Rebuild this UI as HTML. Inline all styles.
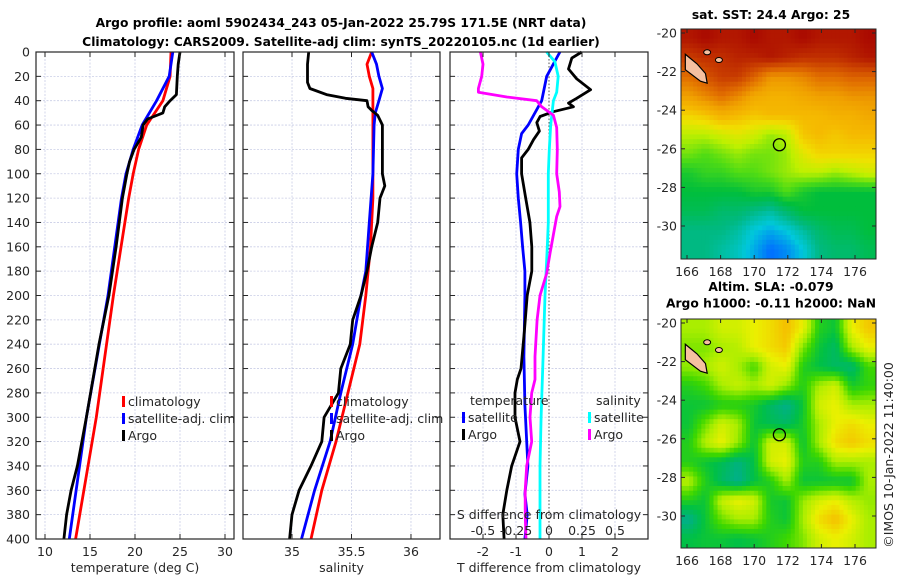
<!DOCTYPE html>
<html><head><meta charset="utf-8">
<style>
html,body{margin:0;padding:0;background:#fff;}
svg{display:block;font-family:"DejaVu Sans","Liberation Sans",sans-serif;}
</style></head>
<body>
<svg id="fig" width="900" height="580" viewBox="0 0 900 580">
<g font-weight="bold" font-size="12.3" text-anchor="middle" fill="#000">
<text x="341" y="27">Argo profile: aoml 5902434_243 05-Jan-2022 25.79S 171.5E (NRT data)</text>
<text x="341" y="46">Climatology: CARS2009. Satellite-adj clim: synTS_20220105.nc (1d earlier)</text>
</g>
</svg>
<script>
// ---------- data ----------
const depthTicks=[0,20,40,60,80,100,120,140,160,180,200,220,240,260,280,300,320,340,360,380,400];
const tempTicks=[10,15,20,25,30];
const salTicks=[35,35.5,36];
const tdiffTicks=[-2,-1,0,1,2];
const sdiffTicks=[-0.5,-0.25,0,0.25,0.5];
const sdiffTickLabels=["-0.5","-0.25","0","0.25","0.5"];

const tClimDepth=[0,20,40,50,60,80,100,120,200,300,400];
const tClimVal=[24.0,23.9,23.1,22.2,21.3,20.4,19.8,19.3,17.6,15.7,13.4];
const tSatDepth=[0,20,40,60,80,100,120,200,300,400];
const tSatVal=[24.2,23.8,22.4,20.8,19.8,19.0,18.5,17.0,14.6,12.7];
const tArgoDepth=[0,10,20,35,40,45,50,55,60,70,80,90,100,120,160,200,240,300,340,360,380,400];
const tArgoVal=[25.0,24.8,24.7,24.6,23.9,23.3,23.1,21.4,20.9,20.7,19.9,19.4,19.1,18.6,17.9,17.1,16.0,14.6,13.6,12.9,12.4,12.1];

const sClimDepth=[0,10,20,30,60,120,160,200,240,280,320,360,400];
const sClimVal=[35.67,35.63,35.65,35.68,35.68,35.68,35.66,35.62,35.57,35.47,35.37,35.25,35.16];
const sSatDepth=[0,10,20,30,40,50,60,100,140,180,200,240,280,320,360,400];
const sSatVal=[35.67,35.71,35.73,35.76,35.73,35.70,35.69,35.68,35.65,35.62,35.58,35.51,35.41,35.32,35.19,35.08];
const sArgoDepth=[0,10,25,30,35,38,40,45,48,52,60,80,100,110,120,140,160,180,200,220,240,260,280,300,320,340,360,380,400];
const sArgoVal=[35.14,35.13,35.13,35.15,35.29,35.45,35.63,35.64,35.67,35.72,35.76,35.76,35.76,35.78,35.74,35.72,35.67,35.63,35.58,35.51,35.49,35.41,35.39,35.27,35.25,35.16,35.06,35.00,34.98];

const dTSatDepth=[0,20,40,60,67,80,100,120,140,160,180,200,250,290,340,363,380,400];
const dTSatVal=[0.33,-0.07,-0.22,-0.63,-0.83,-0.93,-0.98,-0.93,-0.86,-0.80,-0.73,-0.73,-0.76,-0.73,-0.64,-0.73,-0.66,-0.73];
const dTArgoDepth=[0,5,14,22,31,38,42,45,49,53,58,65,72,80,87,100,121,140,160,180,200,230,260,269,280,300,320,340,360,380,400];
const dTArgoVal=[0.99,0.69,0.59,0.84,1.26,0.84,0.59,0.74,0.13,-0.27,-0.37,-0.29,-0.47,-0.63,-0.83,-0.83,-0.70,-0.58,-0.52,-0.52,-0.66,-0.75,-0.85,-0.96,-1.03,-1.03,-0.88,-1.13,-1.28,-1.40,-1.36];
const dSSatDepth=[0,8,20,33,40,60,80,100,140,160,200,250,300,340,400];
const dSSatVal=[-0.018,0.045,0.07,0.058,0.033,0.013,0.002,-0.005,-0.005,-0.013,-0.03,-0.045,-0.06,-0.068,-0.068];
const dSArgoDepth=[0,10,20,30,33,37,40,45,52,62,80,100,115,127,135,150,165,182,200,220,250,269,280,300,320,340,360,380,400];
const dSArgoVal=[-0.52,-0.50,-0.51,-0.535,-0.535,-0.32,-0.093,-0.055,0.033,0.058,0.063,0.058,0.078,0.083,0.058,0.033,0.008,-0.018,-0.068,-0.09,-0.106,-0.106,-0.131,-0.144,-0.131,-0.169,-0.18,-0.18,-0.174];

const lonTicks=[166,168,170,172,174,176];
const latTicks=[-20,-22,-24,-26,-28,-30];
const argoLon=171.5, argoLat=-25.79;
const sstGrid=[
[26.5,26.6,26.5,26.5,26.6,26.5,26.5,26.6,26.5,26.5,26.5,26.6],
[26.2,26.3,26.3,26.4,26.4,26.5,26.4,26.3,26.3,26.3,26.4,26.5],
[25.8,26.0,26.2,26.2,25.9,25.5,25.5,25.6,25.8,25.8,25.9,25.9],
[25.4,25.6,25.8,25.6,25.3,25.2,25.2,25.3,25.4,25.4,25.5,25.5],
[24.9,25.0,25.2,25.1,25.0,25.1,25.1,25.1,25.1,25.2,25.2,25.3],
[24.5,24.5,24.6,24.7,24.6,24.4,24.5,25.0,25.1,25.0,25.1,25.1],
[24.3,24.2,24.3,24.4,24.3,24.3,24.4,24.7,24.9,24.9,24.9,24.9],
[24.0,24.1,24.1,24.2,24.2,24.3,24.4,24.5,24.5,24.4,24.5,24.6],
[23.9,23.9,23.9,23.9,24.0,24.0,24.2,24.0,23.9,23.9,23.9,23.9],
[23.8,23.8,23.7,23.7,23.6,23.5,23.7,23.9,23.9,23.9,23.9,23.9],
[23.6,23.6,23.6,23.5,23.3,23.2,23.3,23.5,23.7,23.8,23.8,23.9],
[23.6,23.6,23.5,23.4,23.2,23.0,23.1,23.3,23.6,23.7,23.7,23.8]];
const slaGrid=[
[0.05,0.05,0.08,0.08,0.1,0.12,0.15,0.1,-0.02,-0.04,0.1,0.14],
[0.03,0.03,0.05,0.06,0.1,0.12,0.14,0.03,-0.04,-0.07,0.05,0.1],
[0.04,0.05,0.08,0.05,0.0,0.08,0.1,-0.02,-0.05,-0.07,-0.08,0.0],
[-0.02,0.0,0.05,0.07,0.05,0.08,0.04,-0.02,0.05,0.08,-0.03,-0.01],
[-0.04,-0.04,-0.02,-0.02,-0.03,-0.07,-0.1,-0.04,0.08,0.1,0.05,0.05],
[-0.04,0.02,0.08,0.05,-0.04,-0.06,-0.07,-0.03,0.05,0.1,0.12,0.1],
[-0.02,0.06,0.1,0.04,-0.04,0.08,0.08,-0.04,0.05,0.12,0.14,0.12],
[-0.02,-0.04,-0.06,-0.09,-0.05,0.08,0.1,-0.02,-0.02,0.05,0.05,0.05],
[0.06,-0.02,-0.07,-0.1,-0.05,-0.02,0.05,-0.04,-0.04,-0.04,-0.04,0.05],
[-0.02,-0.04,0.07,0.1,0.08,-0.03,-0.04,0.04,0.08,0.1,0.06,0.04],
[-0.1,-0.04,0.02,0.05,0.05,-0.02,-0.04,0.05,0.12,0.15,0.1,0.05],
[-0.05,-0.04,-0.04,-0.05,-0.04,-0.02,0.0,0.03,0.08,0.1,0.08,0.05]];

// ---------- drawing ----------
const NS="http://www.w3.org/2000/svg";
const svg=document.getElementById('fig');
function mk(tag,attrs,parent){const e=document.createElementNS(NS,tag);for(const k in attrs)e.setAttribute(k,attrs[k]);(parent||svg).appendChild(e);return e;}
function lin(d0,d1,r0,r1){return v=>r0+(v-d0)*(r1-r0)/(d1-d0);}
const Y0=52,Y1=539;
const yD=lin(0,400,Y0,Y1);
const TXT="#262626";

function panel(name,x0,x1,xs,ticks){
  const g=mk('g',{});
  
  
  depthTicks.forEach(d=>{const l=mk('line',{x1:x0,x2:x1,y1:yD(d),y2:yD(d),stroke:'#c9cde6','stroke-width':0.8,'stroke-dasharray':'2,1.5'},g);
    });
  ticks.forEach(t=>{const l=mk('line',{x1:xs(t),x2:xs(t),y1:Y0,y2:Y1,stroke:'#c9cde6','stroke-width':0.8,'stroke-dasharray':'2,1.5'},g);
    });
  return g;
}
function frame(g,x0,x1,xs,ticks,tickLabels,xlabel,showY){
  const r=mk('rect',{x:x0,y:Y0,width:x1-x0,height:Y1-Y0,fill:'none',stroke:'#262626','stroke-width':1.2},g);
  
  depthTicks.forEach(d=>{mk('line',{x1:x0,x2:x0+5,y1:yD(d),y2:yD(d),stroke:'#262626'},g);mk('line',{x1:x1-5,x2:x1,y1:yD(d),y2:yD(d),stroke:'#262626'},g);
    if(showY){const t=mk('text',{x:30,y:yD(d)+4.5,'text-anchor':'end','font-size':12.5,fill:TXT},g);t.textContent=d;
      }});
  ticks.forEach((v,i)=>{mk('line',{x1:xs(v),x2:xs(v),y1:Y1,y2:Y1-5,stroke:'#262626'},g);mk('line',{x1:xs(v),x2:xs(v),y1:Y0,y2:Y0+5,stroke:'#262626'},g);
    const t=mk('text',{x:xs(v),y:556,'text-anchor':'middle','font-size':12.5,fill:TXT},g);t.textContent=tickLabels[i];
    });
  const xl=mk('text',{x:(x0+x1)/2,y:572,'text-anchor':'middle','font-size':12.5,fill:TXT},g);xl.textContent=xlabel;
  
}
function series(g,name,xs,dep,val,color){
  const pts=dep.map((d,i)=>xs(val[i]).toFixed(1)+','+yD(d).toFixed(1)).join(' ');
  const p=mk('polyline',{points:pts,fill:'none',stroke:color,'stroke-width':2.8,'stroke-linejoin':'round'},g);
  
}
function legend(g,x,y,items){
  items.forEach((it,i)=>{
    const m=mk('rect',{x:x,y:y+i*17-10,width:3,height:11,fill:it[1]},g);
    
    const t=mk('text',{x:x+6,y:y+i*17,'font-size':12.5,fill:TXT},g);t.textContent=it[0];
    
  });
}
// Panel 1 temperature
const xT=lin(9,31,36,234);
const g1=panel('temperature-panel',36,234,xT,tempTicks);
series(g1,'temperature-climatology-line',xT,tClimDepth,tClimVal,'#ff0000');
series(g1,'temperature-satellite-line',xT,tSatDepth,tSatVal,'#0000ff');
series(g1,'temperature-argo-line',xT,tArgoDepth,tArgoVal,'#000000');
legend(g1,122,406,[['climatology','#ff0000'],['satellite-adj. clim','#0000ff'],['Argo','#000']]);
frame(g1,36,234,xT,tempTicks,tempTicks.map(String),'temperature (deg C)',true);
// Panel 2 salinity
const xS=lin(34.588,36.244,243,440);
const g2=panel('salinity-panel',243,440,xS,salTicks);
series(g2,'salinity-climatology-line',xS,sClimDepth,sClimVal,'#ff0000');
series(g2,'salinity-satellite-line',xS,sSatDepth,sSatVal,'#0000ff');
series(g2,'salinity-argo-line',xS,sArgoDepth,sArgoVal,'#000000');
legend(g2,330,406,[['climatology','#ff0000'],['satellite-adj. clim','#0000ff'],['Argo','#000']]);
frame(g2,243,440,xS,salTicks,['35','35.5','36'],'salinity',false);
// Panel 3 differences
const xDT=lin(-3,3,450,648);
const xDS=lin(-0.75,0.75,450,648);
const g3=panel('difference-panel',450,648,xDT,tdiffTicks);
const zl=mk('line',{x1:xDT(0),x2:xDT(0),y1:Y0,y2:Y1,stroke:'#555','stroke-width':1,'stroke-dasharray':'1.5,2'},g3);

series(g3,'t-diff-satellite-line',xDT,dTSatDepth,dTSatVal,'#0000ff');
series(g3,'t-diff-argo-line',xDT,dTArgoDepth,dTArgoVal,'#000000');
series(g3,'s-diff-satellite-line',xDS,dSSatDepth,dSSatVal,'#00ffff');
series(g3,'s-diff-argo-line',xDS,dSArgoDepth,dSArgoVal,'#ff00ff');
(function(){const t=mk('text',{x:470,y:405,'font-size':12.5,fill:TXT},g3);t.textContent='temperature';
 
 const s=mk('text',{x:596,y:405,'font-size':12.5,fill:TXT},g3);s.textContent='salinity';
 })();
legend(g3,462,422,[['satellite','#0000ff'],['Argo','#000']]);
legend(g3,588,422,[['satellite','#00ffff'],['Argo','#ff00ff']]);
(function(){const t=mk('text',{x:549,y:519,'text-anchor':'middle','font-size':12.5,fill:TXT},g3);t.textContent='S difference from climatology';
 
 sdiffTicks.forEach((v,i)=>{const l=mk('text',{x:xDS(v),y:535,'text-anchor':'middle','font-size':12.5,fill:TXT},g3);l.textContent=sdiffTickLabels[i];
  });})();
frame(g3,450,648,xDT,tdiffTicks,tdiffTicks.map(String),'T difference from climatology',false);

// ---------- maps ----------
function lerpColor(stops,v){
  if(v<=stops[0][0])return stops[0][1];
  for(let i=1;i<stops.length;i++){if(v<=stops[i][0]){const a=stops[i-1],b=stops[i];const f=(v-a[0])/(b[0]-a[0]);
    const c=a[1].map((x,k)=>Math.round(x+(b[1][k]-x)*f));return c;}}
  return stops[stops.length-1][1];
}
function sampleGrid(grid,fy,fx){
  const R=grid.length,C=grid[0].length;
  const y=Math.max(0,Math.min(R-1,fy)),x=Math.max(0,Math.min(C-1,fx));
  const y0=Math.floor(y),x0=Math.floor(x),y1=Math.min(R-1,y0+1),x1=Math.min(C-1,x0+1);
  const ty=y-y0,tx=x-x0;
  return grid[y0][x0]*(1-ty)*(1-tx)+grid[y0][x1]*(1-ty)*tx+grid[y1][x0]*ty*(1-tx)+grid[y1][x1]*ty*tx;
}
const sstStops=[[23.0,[0,110,255]],[23.3,[0,200,220]],[23.6,[0,185,130]],[23.9,[0,190,60]],[24.2,[80,220,20]],[24.5,[190,240,0]],[24.8,[240,225,0]],[25.1,[245,185,0]],[25.4,[240,160,0]],[25.8,[225,110,0]],[26.2,[200,60,0]],[26.6,[170,10,0]]];
const slaStops=[[-0.1,[0,175,140]],[-0.05,[0,192,70]],[0,[60,215,0]],[0.05,[170,238,0]],[0.1,[235,240,0]],[0.15,[245,190,0]]];
function map(name,top,bottom,grid,stops,titleLines,latRef){
  const left=681,right=876;
  const g=mk('g',{});
  
  const xL=lin(166,176,687,855);
  const yL=lin(-20,-30,latRef[0],latRef[1]);
  const rows=grid.length,cols=grid[0].length;
  const SUB=4;
  const cw=(right-left)/(cols*SUB),ch=(bottom-top)/(rows*SUB);
  for(let r=0;r<rows*SUB;r++)for(let c=0;c<cols*SUB;c++){
    const v=sampleGrid(grid,(r+0.5)/SUB-0.5,(c+0.5)/SUB-0.5);
    const col=lerpColor(stops,v);
    const cell=mk('rect',{x:(left+c*cw).toFixed(2),y:(top+r*ch).toFixed(2),width:(cw+0.5).toFixed(2),height:(ch+0.5).toFixed(2),fill:`rgb(${col[0]},${col[1]},${col[2]})`},g);
    
    
  }
  const land=mk('polygon',{points:[[165.9,-21.1],[166.6,-21.6],[167.1,-22.1],[167.2,-22.6],[166.8,-22.5],[165.9,-21.9]].map(p=>xL(p[0])+','+yL(p[1])).join(' '),fill:'#f5c0a0',stroke:'#000','stroke-width':1.2},g);
  
  [[167.2,-21],[167.9,-21.4]].forEach(p=>{const e=mk('ellipse',{cx:xL(p[0]),cy:yL(p[1]),rx:3.5,ry:2.5,fill:'#f5c0a0',stroke:'#000'},g);
    });
  const c=mk('circle',{cx:xL(argoLon),cy:yL(argoLat),r:6,fill:'none',stroke:'#000','stroke-width':1.3},g);
  
  const fr=mk('rect',{x:left,y:top,width:right-left,height:bottom-top,fill:'none',stroke:'#262626','stroke-width':1},g);
  
  lonTicks.forEach(v=>{mk('line',{x1:xL(v),x2:xL(v),y1:bottom,y2:bottom-4,stroke:'#262626'},g);mk('line',{x1:xL(v),x2:xL(v),y1:top,y2:top+4,stroke:'#262626'},g);
    const t=mk('text',{x:xL(v),y:bottom+17,'text-anchor':'middle','font-size':12.5,fill:TXT},g);t.textContent=v;
    });
  latTicks.forEach(v=>{mk('line',{x1:left,x2:left+4,y1:yL(v),y2:yL(v),stroke:'#262626'},g);mk('line',{x1:right-4,x2:right,y1:yL(v),y2:yL(v),stroke:'#262626'},g);
    const t=mk('text',{x:677,y:yL(v)+4.5,'text-anchor':'end','font-size':12.5,fill:TXT},g);t.textContent=v;
    });
  titleLines.forEach((s,i)=>{const t=mk('text',{x:771,y:titleLines.length==1?top-10:top-28+i*16.5,'text-anchor':'middle','font-size':12.3,'font-weight':'bold',fill:'#000'},g);t.textContent=s;
    });
}
map('sst-map',29,259,sstGrid,sstStops,['sat. SST: 24.4 Argo: 25'],[33,226]);
map('sla-map',319,548,slaGrid,slaStops,['Altim. SLA: -0.079','Argo h1000: -0.11 h2000: NaN'],[323,516]);
const cr=mk('text',{x:0,y:0,'font-size':12.5,fill:TXT,'text-anchor':'middle',transform:'translate(893,455) rotate(-90)'});
cr.textContent='©IMOS 10-Jan-2022 11:40:00';


</script>
</body></html>
